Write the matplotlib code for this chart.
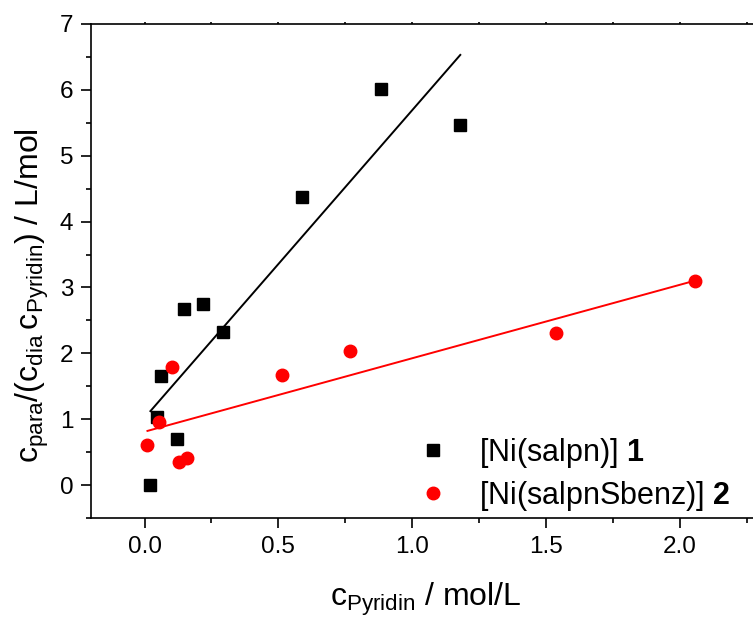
import matplotlib
matplotlib.use("Agg")
import matplotlib.pyplot as plt
import numpy as np

plt.rcParams['font.family'] = ['Liberation Sans', 'DejaVu Sans']
plt.rcParams['mathtext.fontset'] = 'custom'
plt.rcParams['mathtext.rm'] = 'Liberation Sans'
plt.rcParams['mathtext.bf'] = 'Liberation Sans:bold'
plt.rcParams['mathtext.default'] = 'regular'

# [Ni(salpn)] 1
x1 = [0.022, 0.045, 0.06, 0.12, 0.147, 0.22, 0.295, 0.59, 0.885, 1.18]
y1 = [0.00, 1.03, 1.65, 0.70, 2.67, 2.75, 2.32, 4.37, 6.01, 5.47]
fit1 = (4.67, 1.02)  # slope, intercept

# [Ni(salpnSbenz)] 2
x2 = [0.011, 0.053, 0.104, 0.13, 0.157, 0.514, 0.768, 1.537, 2.056]
y2 = [0.61, 0.96, 1.79, 0.35, 0.41, 1.67, 2.04, 2.31, 3.10]
fit2 = (1.115, 0.81)

W, H = 753, 619
fig = plt.figure(figsize=(W / 100, H / 100), dpi=100)
ax = fig.add_axes([91 / W, (H - 518) / H, (760 - 91) / W, (518 - 24) / H])

ax.plot(x1, y1, 's', color='black', ms=8, mec='black', label=r'[Ni(salpn)] $\mathbf{1}$', zorder=3)
ax.plot(x2, y2, 'o', color='red', ms=9, mec='red', label=r'[Ni(salpnSbenz)] $\mathbf{2}$', zorder=3)

xf = np.array([min(x1), max(x1)])
ax.plot(xf, fit1[0] * xf + fit1[1], '-', color='black', lw=1.4)
xf = np.array([min(x2), max(x2)])
ax.plot(xf, fit2[0] * xf + fit2[1], '-', color='red', lw=1.4)

ax.set_xticks([0.0, 0.5, 1.0, 1.5, 2.0])
ax.set_xticklabels(['0.0', '0.5', '1.0', '1.5', '2.0'])
ax.set_xticks(np.arange(-0.25, 2.3, 0.25), minor=True)
ax.set_yticks(range(0, 8))
ax.set_yticks(np.arange(-0.5, 7.01, 0.5), minor=True)
# limits after the ticks, set_xticks would widen them otherwise
ax.set_xlim(-0.2, 2.3)
ax.set_ylim(-0.5, 7)

ax.spines['right'].set_visible(False)
for s in ['left', 'bottom', 'top']:
    ax.spines[s].set_linewidth(1.2)
ax.tick_params(which='major', direction='out', length=7.2, width=1.2, labelsize=17.5, pad=5.5)
ax.tick_params(which='minor', direction='out', length=3.6, width=1.2)
ax.tick_params(axis='x', which='both', top=True)
for t in ax.xaxis.get_major_ticks() + ax.xaxis.get_minor_ticks():
    t.tick2line.set_markersize(1.5)

ax.set_xlabel(r'$c_{Pyridin}$ / mol/L', fontsize=23)
ax.set_ylabel(r'$c_{para}/(c_{dia}\,c_{Pyridin})$ / L/mol', fontsize=23)
ax.xaxis.set_label_coords(0.5, -0.128)
ax.yaxis.set_label_coords(-0.06, 0.45)

leg = ax.legend(loc='upper left', bbox_to_anchor=(418 / W, (H - 436) / H),
                bbox_transform=fig.transFigure, frameon=False, fontsize=22,
                handlelength=1.0, handletextpad=1.0, borderpad=0, borderaxespad=0,
                labelspacing=0.28, markerscale=1.0)

fig.savefig('out.png', dpi=100)
